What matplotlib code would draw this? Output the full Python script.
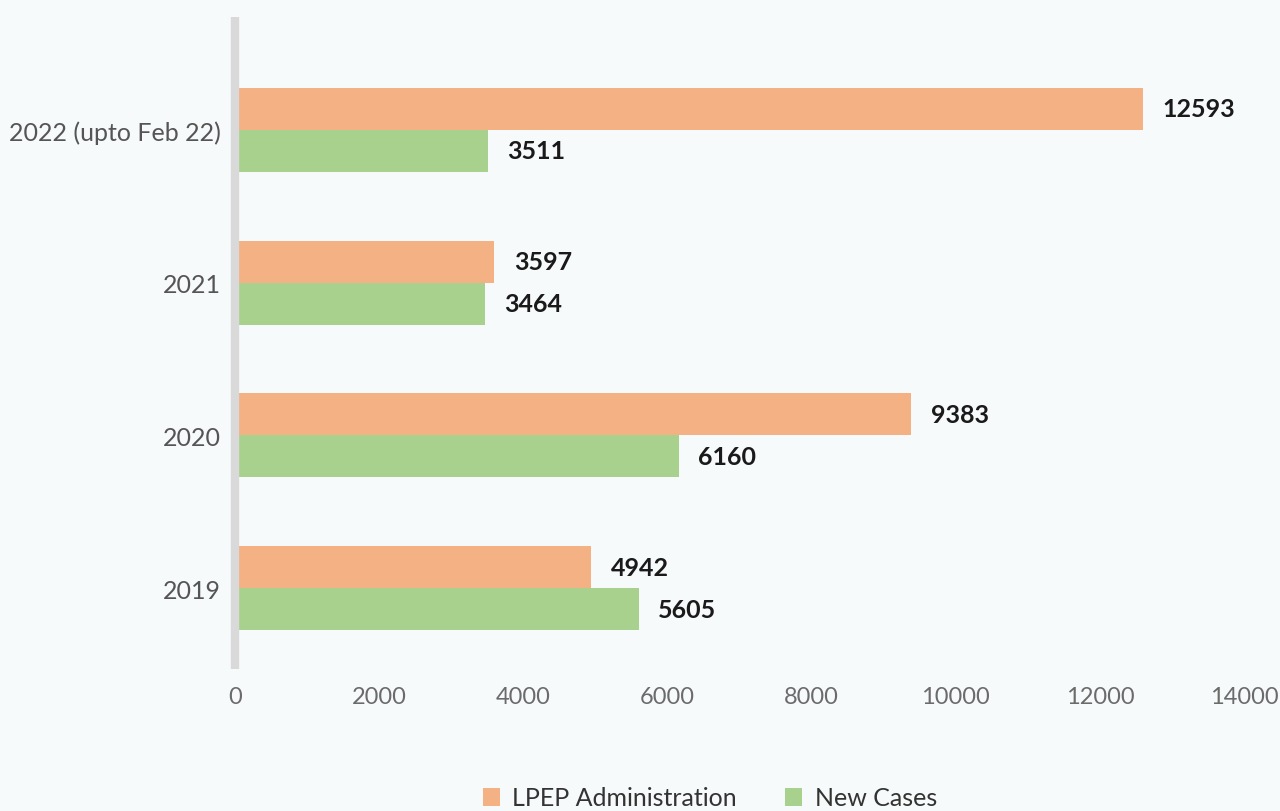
import matplotlib.pyplot as plt
import numpy as np

categories = ["2019", "2020", "2021", "2022 (upto Feb 22)"]
lpep = [4942, 9383, 3597, 12593]
new_cases = [5605, 6160, 3464, 3511]
series_names = ["LPEP Administration", "New Cases"]
xticks = [0, 2000, 4000, 6000, 8000, 10000, 12000, 14000]

bg = "#f7fafb"
c_orange = "#f4b183"
c_green = "#a9d18e"

plt.rcParams['font.family'] = ['Lato', 'DejaVu Sans']

fig = plt.figure(figsize=(12.8, 8.12), dpi=100, facecolor=bg)
L, R, T, B = 235, 1244, 18, 670
ax = fig.add_axes([L/1280, 1-B/812, (R-L)/1280, (B-T)/812])
ax.set_facecolor(bg)

ax.spines['left'].set_color('#d9d9d9')
ax.spines['left'].set_linewidth(6)
ax.spines['left'].set_capstyle('butt')
ax.spines['left'].set_zorder(5)
for s in ['top', 'right', 'bottom']:
    ax.spines[s].set_visible(False)

y = np.arange(len(categories))
h = 0.275
b1 = ax.barh(y + h/2, lpep, height=h, color=c_orange, label=series_names[0])
b2 = ax.barh(y - h/2, new_cases, height=h, color=c_green, label=series_names[1])

for bars in (b1, b2):
    ax.bar_label(bars, labels=[f"{int(v)}" for v in bars.datavalues], padding=14,
                 fontsize=18, fontweight='bold', color='#1a1a1a')

ax.set_xlim(0, 14000)
ax.set_ylim(-0.53, 3.74)
ax.set_yticks(y)
ax.set_yticklabels(categories)
ax.set_xticks(xticks)
ax.set_xticklabels([str(t) for t in xticks])
ax.tick_params(axis='both', length=0)
ax.tick_params(axis='y', pad=10, labelcolor='#555555', labelsize=18)
ax.tick_params(axis='x', pad=12, labelcolor='#6b6b6b', labelsize=17)

fig.legend(handles=[b1, b2], labels=series_names, ncol=2, loc='upper left',
           bbox_to_anchor=(460/1280, 1-765/812), frameon=False, fontsize=18,
           handlelength=0.7, handleheight=0.7, handletextpad=0.5, columnspacing=1.9,
           labelcolor='#333333')

fig.savefig("out.png", dpi=100, facecolor=bg)
